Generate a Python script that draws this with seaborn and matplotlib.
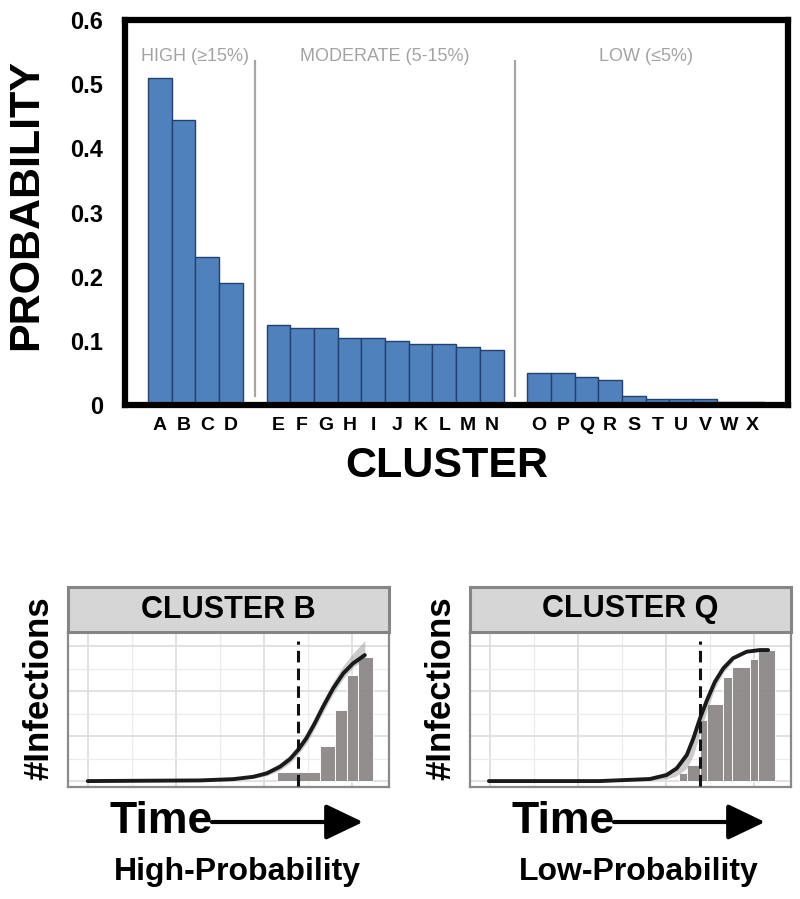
import numpy as np
import pandas as pd
import matplotlib
matplotlib.use("Agg")
import matplotlib.pyplot as plt
import seaborn as sns

# ---------------- data ----------------
high_clusters = ["A", "B", "C", "D"]
high_probs = [0.51, 0.444, 0.23, 0.19]
mod_clusters = ["E", "F", "G", "H", "I", "J", "K", "L", "M", "N"]
mod_probs = [0.125, 0.12, 0.12, 0.105, 0.105, 0.10, 0.095, 0.095, 0.09, 0.085]
low_clusters = ["O", "P", "Q", "R", "S", "T", "U", "V", "W", "X"]
low_probs = [0.05, 0.05, 0.044, 0.039, 0.014, 0.01, 0.01, 0.01, 0.004, 0.004]
group_labels = ["HIGH (\u226515%)", "MODERATE (5-15%)", "LOW (\u22645%)"]
y_ticks = [0, 0.1, 0.2, 0.3, 0.4, 0.5, 0.6]
y_tick_labels = ["0", "0.1", "0.2", "0.3", "0.4", "0.5", "0.6"]

# Cluster B panel (time units, infections)
b_time = [4.5, 30.0, 37.6, 42.1, 45.2, 48.2, 50.5, 52.3, 54.2, 56.1, 58.0, 60.3, 62.6, 64.8, 67.5]
b_inf = [0, 0.5, 1.5, 3.3, 6.0, 11.1, 17.1, 24.0, 33.1, 44.7, 57.6, 71.9, 83.5, 91.2, 97.7]
b_band_time = [42.1, 45.2, 48.2, 50.5, 52.3, 54.2, 56.1, 58.0, 60.3, 62.6, 64.8, 67.5]
b_band_hi = [4.8, 8.0, 14.0, 20.5, 28.0, 37.5, 49.5, 62.5, 77.0, 89.5, 99.0, 109.0]
b_band_lo = [2.0, 4.2, 8.5, 14.0, 20.5, 29.0, 40.5, 53.0, 67.5, 79.5, 88.0, 95.0]
b_hist_edges = [47.6, 57.4, 60.7, 63.5, 66.0, 69.4]
b_hist_counts = [7.2, 27, 55, 82, 96]
b_cutoff = 52.3

# Cluster Q panel
q_time = [4.3, 29.5, 40.9, 44.7, 47.0, 49.3, 50.8, 52.3, 53.9, 55.7, 57.6, 59.8, 62.9, 65.9, 67.8]
q_inf = [0, 0, 1.6, 4.7, 9.8, 20.2, 33.1, 48.6, 62.8, 77.0, 87.4, 95.2, 100.3, 101.6, 101.6]
q_band_time = [40.9, 44.7, 47.0, 49.3, 50.8, 52.3, 53.9, 55.7, 57.6, 59.8]
q_band_hi = [2.5, 6.5, 12.5, 24.0, 37.0, 52.0, 66.0, 79.5, 89.0, 96.0]
q_band_lo = [0.6, 1.8, 4.0, 10.0, 20.0, 37.0, 55.0, 72.0, 84.0, 93.0]
q_hist_edges = [47.6, 49.4, 52.3, 53.8, 57.6, 59.5, 63.6, 65.5, 69.3]
q_hist_counts = [6, 12.4, 47, 60, 81, 88.6, 95, 101.6]
q_cutoff = 52.3

panel_titles = ["CLUSTER B", "CLUSTER Q"]
panel_subtitles = ["High-Probability", "Low-Probability"]

# ---------------- style ----------------
sns.set_style("white")
plt.rcParams["font.family"] = ["Liberation Sans", "DejaVu Sans"]
plt.rcParams["text.color"] = "black"
plt.rcParams["axes.labelcolor"] = "black"
plt.rcParams["xtick.color"] = "black"
plt.rcParams["ytick.color"] = "black"

W, H = 800, 899
fig = plt.figure(figsize=(W / 100, H / 100), dpi=100)


def fx(px):
    return px / W


def fy(py):
    return 1 - py / H


# ---------------- top bar chart ----------------
groups = [(high_clusters, high_probs), (mod_clusters, mod_probs), (low_clusters, low_probs)]
rows = []
spans = []
pos = 0
for gi, (cl, pr) in enumerate(groups):
    start = pos
    for c, p in zip(cl, pr):
        rows.append((c, p, pos, gi))
        pos += 1
    spans.append((start, pos - 1))
    pos += 1
df = pd.DataFrame(rows, columns=["cluster", "prob", "pos", "group"])

L, R, T, B = 125, 788, 20, 405
ax = fig.add_axes([fx(L), fy(B), fx(R) - fx(L), fy(T) - fy(B)])
sns.barplot(data=df, x="pos", y="prob", native_scale=True, width=1.0,
            color="#4f81bd", saturation=1, edgecolor="#23406e", linewidth=1.0, ax=ax)
ax.set_xlim(-1.47, 26.5)
ax.set_ylim(0, 0.6)
ax.set_xticks(df["pos"])
ax.set_xticklabels(df["cluster"], fontsize=14, fontweight="bold")
ax.set_yticks(y_ticks)
ax.set_yticklabels(y_tick_labels, fontsize=17, fontweight="bold")
ax.tick_params(axis="both", length=0, colors="black")
ax.tick_params(axis="x", pad=9)
ax.tick_params(axis="y", pad=16)
for s in ax.spines.values():
    s.set_visible(True)
    s.set_linewidth(4.5)
    s.set_color("black")
ax.set_ylabel("PROBABILITY", fontsize=31, fontweight="bold", va="center", color="black")
ax.yaxis.set_label_coords((26 - L) / (R - L), 0.52)
ax.set_xlabel("CLUSTER", fontsize=31, fontweight="bold", va="center", color="black")
ax.xaxis.set_label_coords((447 - L) / (R - L), (B - 466) / (B - T))

for gi, (s0, s1) in enumerate(spans):
    ax.text((s0 + s1) / 2, 0.543, group_labels[gi], ha="center", va="center",
            color="#a3a3a3", fontsize=13)
    if gi < len(spans) - 1:
        ax.vlines(s1 + 1, 0.012, 0.538, color="#a6a6a6", lw=1.6)

# ---------------- bottom panels ----------------
panels = [
    dict(left=68, time=b_time, inf=b_inf, bt=b_band_time, bh=b_band_hi, bl=b_band_lo,
         edges=b_hist_edges, counts=b_hist_counts, cut=b_cutoff),
    dict(left=470, time=q_time, inf=q_inf, bt=q_band_time, bh=q_band_hi, bl=q_band_lo,
         edges=q_hist_edges, counts=q_hist_counts, cut=q_cutoff),
]
pw = 321
p_top, p_bot, h_top = 632, 787, 587

for i, p in enumerate(panels):
    l = p["left"]
    pax = fig.add_axes([fx(l), fy(p_bot), pw / W, (p_bot - p_top) / H])
    pax.set_xticks([4.5, 24.5, 44.5, 64.5])
    pax.set_xticks([14.5, 34.5, 54.5], minor=True)
    pax.set_yticks([0, 34.9, 69.8, 104.6])
    pax.set_yticks([17.4, 52.3, 87.2], minor=True)
    pax.grid(True, which="major", color="#dedede", lw=1.3)
    pax.grid(True, which="minor", color="#ececec", lw=0.9)
    pax.tick_params(which="both", length=0, labelleft=False, labelbottom=False)
    pax.set_axisbelow(True)
    for s in pax.spines.values():
        s.set_visible(True)
        s.set_color("#8a8a8a")
        s.set_linewidth(1.6)

    edges = np.array(p["edges"], dtype=float)
    pax.bar(edges[:-1], p["counts"], width=np.diff(edges), align="edge",
            color="#8c8888", alpha=0.95, edgecolor="white", linewidth=0.7, zorder=2)
    pax.fill_between(p["bt"], p["bl"], p["bh"], color="#8f8f8f", alpha=0.45, lw=0, zorder=3)
    sns.lineplot(x=p["time"], y=p["inf"], ax=pax, color="#1a1a1a", lw=2.8,
                 sort=False, estimator=None, zorder=4,
                 solid_joinstyle="round", solid_capstyle="round")
    pax.vlines(p["cut"], -3.9, 108.5, color="#111111", lw=2.2,
               linestyles=[(0, (3.8, 2.0))], zorder=5)
    pax.set_xlim(0, 73)
    pax.set_ylim(-4.6, 115.6)
    pax.set_xlabel("")
    pax.set_ylabel("")

    hax = fig.add_axes([fx(l), fy(p_top), pw / W, (p_top - h_top) / H])
    hax.set_facecolor("#d6d6d6")
    hax.set_xticks([])
    hax.set_yticks([])
    for s in hax.spines.values():
        s.set_visible(True)
        s.set_color("#858585")
        s.set_linewidth(2.2)
    hax.text(0.5, 0.5, panel_titles[i], ha="center", va="center",
             fontsize=22, fontweight="bold", transform=hax.transAxes)

    fig.text(fx(l - 29), fy(688), "#Infections", rotation=90, ha="center", va="center",
             fontsize=25, fontweight="bold")
    fig.text(fx(l + 41), fy(833), "Time", ha="left", va="baseline",
             fontsize=32, fontweight="bold")
    pax.annotate("", xy=(l + 295, H - 822), xytext=(l + 144, H - 822),
                 xycoords="figure pixels", textcoords="figure pixels",
                 arrowprops=dict(arrowstyle="-|>,head_length=1.15,head_width=0.55",
                                 mutation_scale=20, lw=3, color="black",
                                 shrinkA=0, shrinkB=0))
    fig.text(fx(l + 169), fy(880), panel_subtitles[i], ha="center", va="baseline",
             fontsize=23, fontweight="bold")

fig.savefig("out.png", dpi=100)
